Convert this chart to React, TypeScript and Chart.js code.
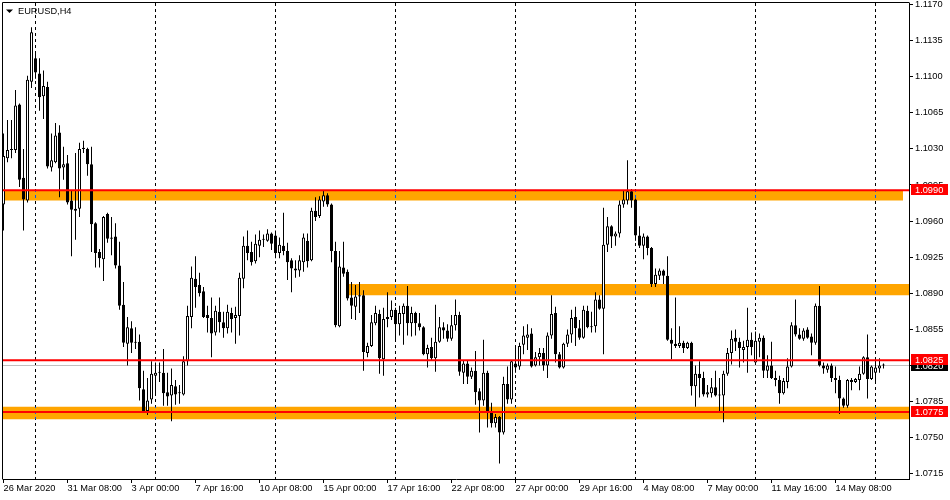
import React, { useEffect, useRef } from "react";
import { Chart, registerables } from "chart.js";

// ---------- DATA (EURUSD, H4, bar 0 = 26 Mar 2020 16:00) ----------
const symbolTitle = "EURUSD,H4";

const opens = [
  1.0976, 1.1021, 1.1029, 1.1029, 1.1073, 1.1002, 1.0980, 1.1095, 1.1118, 1.1103,
  1.1081, 1.1090, 1.1012, 1.1017, 1.1046, 1.1012, 1.1016, 1.0980, 1.0970, 1.0972,
  1.1030, 1.1030, 1.1015, 1.0958, 1.0930, 1.0923, 1.0967, 1.0943, 1.0945, 1.0917,
  1.0879, 1.0841, 1.0856, 1.0843, 1.0843, 1.0797, 1.0776, 1.0787, 1.0810, 1.0813,
  1.0813, 1.0794, 1.0791, 1.0800, 1.0794, 1.0792, 1.0824, 1.0867, 1.0904, 1.0898,
  1.0892, 1.0869, 1.0866, 1.0852, 1.0872, 1.0862, 1.0856, 1.0871, 1.0866, 1.0868,
  1.0904, 1.0936, 1.0930, 1.0921, 1.0936, 1.0942, 1.0941, 1.0948, 1.0946, 1.0929,
  1.0936, 1.0931, 1.0922, 1.0914, 1.0912, 1.0920, 1.0941, 1.0922, 1.0970, 1.0965,
  1.0979, 1.0985, 1.0976, 1.0931, 1.0858, 1.0915, 1.0911, 1.0886, 1.0877, 1.0887,
  1.0888, 1.0832, 1.0839, 1.0861, 1.0870, 1.0826, 1.0865, 1.0867, 1.0874, 1.0860,
  1.0870, 1.0878, 1.0861, 1.0871, 1.0861, 1.0857, 1.0831, 1.0838, 1.0827, 1.0843,
  1.0857, 1.0854, 1.0846, 1.0859, 1.0869, 1.0813, 1.0822, 1.0809, 1.0815, 1.0795,
  1.0786, 1.0813, 1.0775, 1.0764, 1.0770, 1.0755, 1.0802, 1.0787, 1.0822, 1.0819,
  1.0840, 1.0847, 1.0851, 1.0820, 1.0828, 1.0832, 1.0820, 1.0849, 1.0871, 1.0831,
  1.0818, 1.0841, 1.0850, 1.0867, 1.0856, 1.0847, 1.0873, 1.0857, 1.0858, 1.0884,
  1.0875, 1.0937, 1.0955, 1.0945, 1.0948, 1.0976, 1.0980, 1.0989, 1.0981, 1.0946,
  1.0936, 1.0945, 1.0934, 1.0899, 1.0907, 1.0912, 1.0907, 1.0845, 1.0841, 1.0839,
  1.0842, 1.0837, 1.0842, 1.0800, 1.0812, 1.0808, 1.0792, 1.0793, 1.0799, 1.0792,
  1.0791, 1.0812, 1.0832, 1.0847, 1.0843, 1.0835, 1.0838, 1.0845, 1.0823, 1.0843,
  1.0847, 1.0815, 1.0820, 1.0808, 1.0806, 1.0793, 1.0804, 1.0819, 1.0859, 1.0850,
  1.0846, 1.0855, 1.0848, 1.0842, 1.0878, 1.0820, 1.0816, 1.0820, 1.0808, 1.0806,
  1.0788, 1.0781, 1.0806, 1.0804, 1.0806, 1.0812, 1.0828, 1.0807, 1.0813, 1.0817, 1.0820,
];

const highs = [
  1.1045, 1.1058, 1.1058, 1.1087, 1.1074, 1.1030, 1.1101, 1.1148, 1.1125, 1.1118,
  1.1106, 1.1095, 1.1045, 1.1055, 1.1053, 1.1032, 1.1024, 1.0990, 1.1026, 1.1036,
  1.1038, 1.1031, 1.1032, 1.0959, 1.0933, 1.0965, 1.0968, 1.0964, 1.0958, 1.0940,
  1.0901, 1.0867, 1.0863, 1.0857, 1.0850, 1.0815, 1.0808, 1.0824, 1.0823, 1.0823,
  1.0836, 1.0813, 1.0817, 1.0806, 1.0801, 1.0829, 1.0878, 1.0916, 1.0926, 1.0910,
  1.0896, 1.0878, 1.0886, 1.0878, 1.0886, 1.0872, 1.0879, 1.0876, 1.0877, 1.0910,
  1.0945, 1.0951, 1.0940, 1.0947, 1.0951, 1.0947, 1.0952, 1.0949, 1.0951, 1.0944,
  1.0968, 1.0939, 1.0924, 1.0922, 1.0927, 1.0948, 1.0948, 1.0973, 1.0983, 1.0984,
  1.0990, 1.0987, 1.0977, 1.0940, 1.0931, 1.0940, 1.0913, 1.0901, 1.0898, 1.0901,
  1.0893, 1.0842, 1.0869, 1.0878, 1.0874, 1.0876, 1.0891, 1.0883, 1.0876, 1.0878,
  1.0880, 1.0897, 1.0877, 1.0872, 1.0871, 1.0858, 1.0840, 1.0847, 1.0879, 1.0867,
  1.0862, 1.0860, 1.0869, 1.0884, 1.0872, 1.0825, 1.0825, 1.0818, 1.0834, 1.0798,
  1.0845, 1.0815, 1.0784, 1.0773, 1.0771, 1.0809, 1.0819, 1.0825, 1.0838, 1.0842,
  1.0858, 1.0860, 1.0856, 1.0833, 1.0837, 1.0837, 1.0852, 1.0888, 1.0877, 1.0833,
  1.0842, 1.0855, 1.0874, 1.0877, 1.0864, 1.0878, 1.0878, 1.0872, 1.0891, 1.0888,
  1.0973, 1.0964, 1.0956, 1.0950, 1.0980, 1.0990, 1.1019, 1.0991, 1.0982, 1.0955,
  1.0948, 1.0946, 1.0935, 1.0914, 1.0914, 1.0913, 1.0926, 1.0856, 1.0886, 1.0858,
  1.0844, 1.0843, 1.0843, 1.0820, 1.0824, 1.0814, 1.0801, 1.0808, 1.0815, 1.0808,
  1.0815, 1.0837, 1.0854, 1.0855, 1.0847, 1.0844, 1.0876, 1.0852, 1.0853, 1.0851,
  1.0849, 1.0830, 1.0843, 1.0815, 1.0810, 1.0808, 1.0827, 1.0862, 1.0884, 1.0856,
  1.0856, 1.0857, 1.0851, 1.0880, 1.0897, 1.0823, 1.0822, 1.0822, 1.0819, 1.0810,
  1.0789, 1.0807, 1.0808, 1.0808, 1.0819, 1.0829, 1.0850, 1.0820, 1.0827, 1.0827, 1.0822,
];

const lows = [
  1.0951, 1.1017, 1.1021, 1.1026, 1.0993, 1.0951, 1.0978, 1.1089, 1.1098, 1.1067,
  1.1059, 1.1011, 1.1008, 1.1016, 1.0983, 1.1000, 1.0976, 1.0926, 1.0942, 1.0964,
  1.1026, 1.1004, 1.0930, 1.0915, 1.0915, 1.0902, 1.0939, 1.0927, 1.0914, 1.0874,
  1.0838, 1.0820, 1.0832, 1.0836, 1.0786, 1.0775, 1.0772, 1.0783, 1.0791, 1.0804,
  1.0781, 1.0781, 1.0766, 1.0782, 1.0783, 1.0791, 1.0820, 1.0856, 1.0876, 1.0887,
  1.0866, 1.0852, 1.0828, 1.0849, 1.0852, 1.0847, 1.0851, 1.0852, 1.0841, 1.0849,
  1.0895, 1.0922, 1.0917, 1.0919, 1.0925, 1.0935, 1.0940, 1.0932, 1.0924, 1.0924,
  1.0927, 1.0903, 1.0891, 1.0905, 1.0906, 1.0911, 1.0915, 1.0921, 1.0960, 1.0963,
  1.0974, 1.0974, 1.0920, 1.0857, 1.0857, 1.0906, 1.0883, 1.0865, 1.0864, 1.0871,
  1.0815, 1.0828, 1.0838, 1.0859, 1.0812, 1.0810, 1.0857, 1.0864, 1.0844, 1.0849,
  1.0840, 1.0849, 1.0848, 1.0849, 1.0854, 1.0830, 1.0818, 1.0825, 1.0814, 1.0842,
  1.0846, 1.0843, 1.0844, 1.0854, 1.0810, 1.0802, 1.0802, 1.0807, 1.0782, 1.0755,
  1.0781, 1.0760, 1.0760, 1.0760, 1.0725, 1.0753, 1.0783, 1.0783, 1.0813, 1.0816,
  1.0831, 1.0835, 1.0818, 1.0819, 1.0820, 1.0815, 1.0808, 1.0846, 1.0823, 1.0817,
  1.0817, 1.0838, 1.0842, 1.0839, 1.0845, 1.0846, 1.0856, 1.0852, 1.0852, 1.0874,
  1.0831, 1.0930, 1.0934, 1.0936, 1.0944, 1.0973, 1.0976, 1.0973, 1.0941, 1.0934,
  1.0923, 1.0927, 1.0896, 1.0896, 1.0903, 1.0899, 1.0844, 1.0826, 1.0837, 1.0837,
  1.0832, 1.0836, 1.0791, 1.0780, 1.0789, 1.0790, 1.0789, 1.0789, 1.0790, 1.0776,
  1.0765, 1.0810, 1.0821, 1.0834, 1.0818, 1.0823, 1.0813, 1.0830, 1.0821, 1.0828,
  1.0808, 1.0808, 1.0807, 1.0800, 1.0783, 1.0792, 1.0798, 1.0818, 1.0848, 1.0845,
  1.0844, 1.0846, 1.0830, 1.0840, 1.0819, 1.0812, 1.0813, 1.0804, 1.0793, 1.0773,
  1.0779, 1.0779, 1.0796, 1.0803, 1.0796, 1.0811, 1.0788, 1.0806, 1.0804, 1.0813, 1.0817,
];

const closes = [
  1.1023, 1.1029, 1.1030, 1.1072, 1.1000, 1.0981, 1.1097, 1.1143, 1.1104, 1.1080,
  1.1091, 1.1013, 1.1019, 1.1043, 1.1011, 1.1015, 1.0978, 1.0971, 1.0972, 1.1030,
  1.1031, 1.1015, 1.0957, 1.0929, 1.0924, 1.0964, 1.0943, 1.0944, 1.0917, 1.0878,
  1.0842, 1.0857, 1.0842, 1.0842, 1.0798, 1.0776, 1.0786, 1.0812, 1.0813, 1.0814,
  1.0793, 1.0790, 1.0801, 1.0792, 1.0793, 1.0824, 1.0868, 1.0905, 1.0896, 1.0890,
  1.0867, 1.0866, 1.0851, 1.0873, 1.0862, 1.0856, 1.0872, 1.0865, 1.0869, 1.0905,
  1.0936, 1.0929, 1.0920, 1.0938, 1.0942, 1.0943, 1.0948, 1.0938, 1.0929, 1.0937,
  1.0931, 1.0920, 1.0914, 1.0912, 1.0922, 1.0944, 1.0921, 1.0970, 1.0964, 1.0981,
  1.0985, 1.0976, 1.0931, 1.0859, 1.0916, 1.0909, 1.0885, 1.0878, 1.0887, 1.0888,
  1.0833, 1.0839, 1.0862, 1.0871, 1.0827, 1.0865, 1.0867, 1.0874, 1.0860, 1.0871,
  1.0878, 1.0861, 1.0871, 1.0861, 1.0857, 1.0831, 1.0837, 1.0827, 1.0843, 1.0857,
  1.0854, 1.0846, 1.0859, 1.0869, 1.0814, 1.0822, 1.0809, 1.0815, 1.0794, 1.0786,
  1.0813, 1.0775, 1.0764, 1.0770, 1.0755, 1.0802, 1.0787, 1.0824, 1.0818, 1.0839,
  1.0849, 1.0850, 1.0819, 1.0828, 1.0832, 1.0820, 1.0849, 1.0870, 1.0831, 1.0818,
  1.0841, 1.0850, 1.0866, 1.0856, 1.0847, 1.0874, 1.0857, 1.0858, 1.0884, 1.0875,
  1.0937, 1.0955, 1.0945, 1.0948, 1.0976, 1.0981, 1.0989, 1.0980, 1.0946, 1.0936,
  1.0945, 1.0934, 1.0899, 1.0908, 1.0912, 1.0907, 1.0845, 1.0841, 1.0839, 1.0842,
  1.0837, 1.0842, 1.0800, 1.0812, 1.0808, 1.0792, 1.0794, 1.0799, 1.0791, 1.0791,
  1.0812, 1.0832, 1.0846, 1.0843, 1.0837, 1.0838, 1.0845, 1.0838, 1.0844, 1.0847,
  1.0815, 1.0820, 1.0808, 1.0806, 1.0793, 1.0805, 1.0819, 1.0859, 1.0850, 1.0846,
  1.0854, 1.0847, 1.0842, 1.0878, 1.0820, 1.0817, 1.0820, 1.0808, 1.0806, 1.0788,
  1.0781, 1.0806, 1.0804, 1.0807, 1.0812, 1.0828, 1.0807, 1.0819, 1.0818, 1.0820, 1.0821,
];

// time axis labels (bar index of each label)
const timeTickBars = [0, 16, 32, 48, 64, 80, 96, 112, 128, 144, 160, 176, 192, 208];
const timeTickLabels = [
  "26 Mar 2020", "31 Mar 08:00", "3 Apr 00:00", "7 Apr 16:00", "10 Apr 08:00",
  "15 Apr 00:00", "17 Apr 16:00", "22 Apr 08:00", "27 Apr 00:00", "29 Apr 16:00",
  "4 May 08:00", "7 May 00:00", "11 May 16:00", "14 May 08:00",
];
// weekly separators (Monday 00:00 bars)
const weekStartBars = [8, 38, 68, 98, 128, 158, 188, 218];

// price axis labels
const priceTicks = [
  1.117, 1.1135, 1.11, 1.1065, 1.103, 1.0995, 1.096, 1.0925,
  1.089, 1.0855, 1.082, 1.0785, 1.075, 1.0715,
];

// support / resistance zones
const zoneTops = [1.099, 1.0899, 1.078];
const zoneBottoms = [1.098, 1.0888, 1.0768];
const zoneStartBars = [-3, 86.2, -3];
const zoneEndBars = [224.9, 232, 232];

// horizontal levels and current bid
const levelPrices = [1.099, 1.0825, 1.0775];
const bidPrice = 1.082;

// ---------- PLUGINS ----------
const FONT = '"Liberation Sans", Arial, sans-serif';

const bgPlugin = {
  id: "mtBackground",
  beforeDraw(chart: any) {
    const { ctx, width, height } = chart;
    ctx.save();
    ctx.fillStyle = "#ffffff";
    ctx.fillRect(0, 0, width, height);
    ctx.restore();
  },
};

const isZone = (chart: any, index: number) => {
  const ds = chart.data.datasets[index];
  return ds && typeof ds.label === "string" && ds.label.indexOf("zone") === 0;
};

const zoneBlendPlugin = {
  id: "mtZoneBlend",
  beforeDatasetDraw(chart: any, args: any) {
    if (isZone(chart, args.index)) {
      chart.ctx.save();
      chart.ctx.globalCompositeOperation = "difference";
    }
  },
  afterDatasetDraw(chart: any, args: any) {
    if (isZone(chart, args.index)) {
      chart.ctx.restore();
    }
  },
};

Chart.register(bgPlugin as any, zoneBlendPlugin as any);
Chart.register(...registerables);

const framePlugin = {
  id: "mtFrame",
  beforeDatasetsDraw(chart: any) {
    const { ctx, chartArea: a } = chart;
    ctx.save();
    ctx.strokeStyle = "#000";
    ctx.lineWidth = 1;
    ctx.beginPath();
    ctx.moveTo(a.left - 0.5, a.bottom + 0.5);
    ctx.lineTo(a.left - 0.5, a.top - 0.5);
    ctx.lineTo(a.right + 0.5, a.top - 0.5);
    ctx.stroke();
    ctx.restore();
  },
};

const overlayPlugin = {
  id: "mtOverlay",
  afterDraw(chart: any) {
    const { ctx, chartArea: a } = chart;
    const ys = chart.scales.y;
    ctx.save();
    // price tags
    const tag = (v: number, bg: string) => {
      const y = Math.round(ys.getPixelForValue(v));
      ctx.fillStyle = bg;
      ctx.fillRect(a.right + 2, y - 6, 37, 11);
      ctx.fillStyle = "#ffffff";
      ctx.font = `9.25px ${FONT}`;
      ctx.textAlign = "left";
      ctx.textBaseline = "middle";
      ctx.fillText(v.toFixed(4), a.right + 6, y);
    };
    tag(bidPrice, "#000000");
    levelPrices.forEach((v) => tag(v, "#ff0000"));
    // symbol title
    ctx.fillStyle = "#000";
    ctx.beginPath();
    ctx.moveTo(6, 9.5);
    ctx.lineTo(13, 9.5);
    ctx.lineTo(9.5, 13);
    ctx.closePath();
    ctx.fill();
    ctx.font = `9.25px ${FONT}`;
    ctx.textAlign = "left";
    ctx.textBaseline = "alphabetic";
    ctx.fillText(symbolTitle, 18, 14);
    ctx.restore();
  },
};

// ---------- SCALE GEOMETRY ----------
const X_MIN = -0.125;
const X_MAX = 226.375;
const PX_PER_PRICE = 0.00009695;
const Y_MAX = bidPrice + 362.5 * PX_PER_PRICE;
const Y_MIN = bidPrice - 113.5 * PX_PER_PRICE;

export default function App() {
  const ref = useRef<HTMLCanvasElement | null>(null);

  useEffect(() => {
    document.body.style.margin = "0";
    const canvas = ref.current;
    if (!canvas) return;

    const zoneSets = zoneTops.map((top, k) => ({
      type: "line" as const,
      label: "zone" + k,
      data: [
        { x: zoneStartBars[k], y: top },
        { x: zoneEndBars[k], y: top },
      ],
      borderWidth: 0,
      pointRadius: 0,
      backgroundColor: "#005aff",
      fill: { value: zoneBottoms[k] },
      order: 10,
      clip: 0,
      xAxisID: "x",
      yAxisID: "y",
    }));

    const levelSets = levelPrices.map((v, k) => ({
      type: "line" as const,
      label: "level" + k,
      data: [
        { x: -5, y: v },
        { x: 235, y: v },
      ],
      borderColor: "#ff0000",
      borderWidth: 2,
      pointRadius: 0,
      fill: false,
      order: 1,
      clip: 0,
      xAxisID: "x",
      yAxisID: "y",
    }));

    const bidSet = {
      type: "line" as const,
      label: "bid",
      data: [
        { x: -5, y: bidPrice },
        { x: 235, y: bidPrice },
      ],
      borderColor: "#c0c0c0",
      borderWidth: 1,
      pointRadius: 0,
      fill: false,
      order: 9,
      clip: 0,
      xAxisID: "x",
      yAxisID: "y",
    };

    const wickSet = {
      type: "bar" as const,
      label: "wicks",
      data: highs.map((h, i) => ({ x: i, y: [lows[i], h] })),
      backgroundColor: "#000000",
      borderWidth: 0,
      barThickness: 1,
      grouped: false,
      inflateAmount: 0,
      order: 6,
      xAxisID: "x",
      yAxisID: "y",
    };

    const bodySet = {
      type: "bar" as const,
      label: "bodies",
      data: opens.map((o, i) => ({ x: i, y: [o, closes[i]] })),
      backgroundColor: opens.map((o, i) => (closes[i] >= o ? "#ffffff" : "#000000")),
      borderColor: "#000000",
      borderWidth: 1,
      borderSkipped: false,
      barThickness: 3,
      grouped: false,
      inflateAmount: 0,
      order: 5,
      xAxisID: "x",
      yAxisID: "y",
    };

    const tickFont = { family: FONT, size: 9.25 };

    const chart = new Chart(canvas, {
      type: "bar",
      data: { datasets: [...zoneSets, bidSet, wickSet, bodySet, ...levelSets] as any },
      options: {
        animation: false,
        responsive: false,
        devicePixelRatio: 1,
        events: [],
        layout: { padding: { left: 3, top: 3, right: 0, bottom: 0 } },
        plugins: {
          legend: { display: false },
          tooltip: { enabled: false },
          title: { display: false },
        },
        scales: {
          x: {
            type: "linear",
            position: "bottom",
            min: X_MIN,
            max: X_MAX,
            offset: false,
            bounds: "data",
            afterBuildTicks: (s: any) => {
              s.ticks = timeTickBars.map((v) => ({ value: v }));
            },
            afterFit: (s: any) => {
              s.height = 21;
              s.paddingLeft = 0;
              s.paddingRight = 0;
            },
            ticks: {
              autoSkip: false,
              maxRotation: 0,
              minRotation: 0,
              align: "start",
              padding: 0,
              color: "#000",
              font: tickFont,
              callback: (v: any) => {
                const k = timeTickBars.indexOf(Number(v));
                return k >= 0 ? timeTickLabels[k] : "";
              },
            },
            grid: {
              display: true,
              drawOnChartArea: false,
              drawTicks: true,
              tickLength: 4,
              tickColor: "#000",
              tickWidth: 1,
              color: "#000",
              offset: false,
            },
            border: { display: true, color: "#000", width: 1 },
          } as any,
          xg: {
            type: "linear",
            position: "top",
            min: X_MIN,
            max: X_MAX,
            offset: false,
            bounds: "data",
            afterBuildTicks: (s: any) => {
              s.ticks = weekStartBars.map((v) => ({ value: v }));
            },
            afterFit: (s: any) => {
              s.height = 0;
              s.paddingLeft = 0;
              s.paddingRight = 0;
            },
            ticks: { display: false },
            grid: {
              display: true,
              drawOnChartArea: true,
              drawTicks: false,
              color: "#000",
              lineWidth: 1,
              offset: false,
            },
            border: { display: false, dash: [3, 3] },
          } as any,
          y: {
            type: "linear",
            position: "right",
            min: Y_MIN,
            max: Y_MAX,
            beginAtZero: false,
            bounds: "data",
            afterBuildTicks: (s: any) => {
              s.ticks = priceTicks.map((v) => ({ value: v }));
            },
            afterFit: (s: any) => {
              s.width = 41;
              s.paddingTop = 0;
              s.paddingBottom = 0;
            },
            ticks: {
              autoSkip: false,
              padding: 2,
              color: "#000",
              font: tickFont,
              callback: (v: any) => Number(v).toFixed(4),
            },
            grid: {
              display: true,
              drawOnChartArea: false,
              drawTicks: true,
              tickLength: 4,
              tickColor: "#000",
              color: "#000",
            },
            border: { display: true, color: "#000", width: 1 },
          } as any,
        },
      },
      plugins: [framePlugin, overlayPlugin],
    } as any);

    return () => chart.destroy();
  }, []);

  return (
    <canvas
      ref={ref}
      width={950}
      height={500}
      style={{ display: "block", width: 950, height: 500 }}
    />
  );
}
